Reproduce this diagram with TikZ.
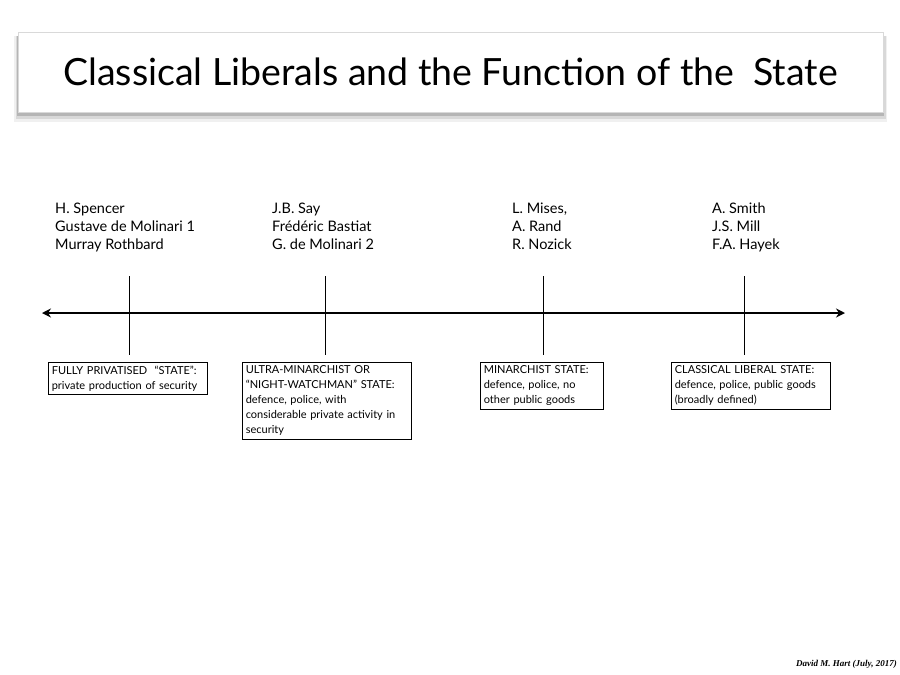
\documentclass[tikz,border=0pt]{standalone}
\usepackage{fontspec}
\setmainfont{Lato}
\newfontfamily\creditfont{Liberation Serif}
\usetikzlibrary{positioning, arrows.meta}

\begin{document}
\begin{tikzpicture}[x=1pt, y=-1pt,
        statebox/.style={draw=black, line width=0.6pt, anchor=north west, align=left,
            inner sep=3.5pt, font=\fontsize{11}{15}\selectfont},
        names/.style={anchor=north west, align=left, inner sep=0pt,
            font=\fontsize{14.5}{18}\selectfont},
        tick/.style={line width=0.6pt, black}]
    \useasboundingbox (0,0) rectangle (900,675);
    % title bar
    \foreach \o/\op in {8/0.06, 5/0.1, 2/0.16}
        \fill[black, opacity=\op] (18-\o/2,36) rectangle (883+\o/2,114+\o);
    \node[draw=gray!30, fill=white, minimum width=865pt, minimum height=80pt,
        inner sep=0pt, font=\fontsize{37.5}{44}\selectfont] (title) at (450.5,72)
        {Classical Liberals and the Function of the\ \ State};

    % axis
    \coordinate (left) at (42,313);
    \coordinate (right) at (845,313);
    \draw[line width=1.6pt, {Stealth[length=9pt,width=9pt]}-{Stealth[length=9pt,width=9pt]}] (left) -- (right);

    % names
    \node[names] (n1) at (55,203) {H. Spencer\\Gustave de Molinari 1\\Murray Rothbard};
    \node[names] (n2) at (272,203) {J.B. Say\\Frédéric Bastiat\\G. de Molinari 2};
    \node[names] (n3) at (512,203) {L. Mises,\\A. Rand\\R. Nozick};
    \node[names] (n4) at (712,203) {A. Smith\\J.S. Mill\\F.A. Hayek};

    % boxes
    \node[statebox, text width=152pt] (b1) at (48,362)
        {FULLY PRIVATISED\ \ ``STATE'':\\private production of security};
    \node[statebox, text width=162pt] (b2) at (242,362)
        {ULTRA-MINARCHIST OR\\``NIGHT-WATCHMAN'' STATE:\\defence, police, with\\considerable private activity in\\security};
    \node[statebox, text width=116pt] (b3) at (480,362)
        {MINARCHIST STATE:\\defence, police, no\\other public goods};
    \node[statebox, text width=152pt] (b4) at (671,362)
        {CLASSICAL LIBERAL STATE:\\defence, police, public goods\\(broadly defined)};

    % ticks
    \foreach \i/\x in {1/129, 2/325, 3/543, 4/744} {
        \coordinate (t\i) at (\x,276);
        \coordinate (u\i) at (\x,355);
        \draw[tick] (t\i) -- (u\i);
    }

    \node[anchor=south east, inner sep=0pt, font=\creditfont\fontsize{9}{11}\selectfont\bfseries\itshape]
        (credit) at (897,669) {David M. Hart (July, 2017)};
\end{tikzpicture}
\end{document}
